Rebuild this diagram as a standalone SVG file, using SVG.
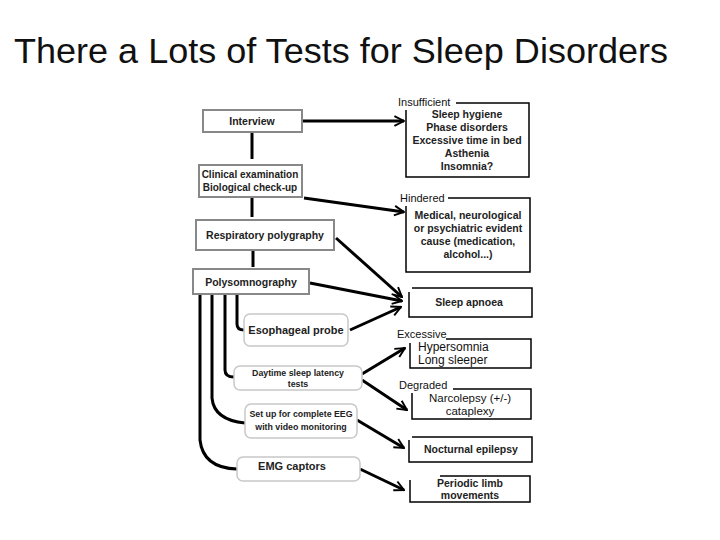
<svg xmlns="http://www.w3.org/2000/svg" width="720" height="540" viewBox="0 0 720 540">
<defs>
<marker id="ah" viewBox="0 0 10 10" refX="9" refY="5" markerWidth="4" markerHeight="4" orient="auto" markerUnits="strokeWidth">
<path d="M1,1 L9,5 L1,9" fill="none" stroke="#000" stroke-width="1.6"/>
</marker>
</defs>
<style>
text{font-family:"Liberation Sans",Arial,sans-serif;fill:#111}
.t{font-size:10.5px;text-anchor:middle;font-weight:bold;fill:#222}
.s{font-size:8.8px;text-anchor:middle;font-weight:bold;fill:#222}
.lbl{font-size:11px}
.box{fill:#fff;stroke:#888;stroke-width:2}
.rbox{fill:#fff;stroke:#c8c8c8;stroke-width:1.5}
.res{fill:#fff;stroke:#000;stroke-width:1.5}
.c{fill:none;stroke:#000;stroke-width:3}
.a{fill:none;stroke:#000;stroke-width:3;marker-end:url(#ah)}
</style>
<rect width="720" height="540" fill="#fff"/>
<text x="14" y="63" style="font-size:35px" textLength="654" lengthAdjust="spacingAndGlyphs">There a Lots of Tests for Sleep Disorders</text>

<g id="connectors">
<path class="c" d="M252,132 V159"/>
<path class="c" d="M252,197 V217"/>
<path class="c" d="M253,250 V267"/>
<path class="c" d="M237,294 V324 Q237,330 244,330"/>
<path class="c" d="M225,294 V370 Q225,377 234,377"/>
<path class="c" d="M212,294 V398 Q214,420 245,423"/>
<path class="c" d="M200,294 V440 Q203,468 237,469"/>
<path class="a" d="M302,121 H404"/>
<path class="a" d="M304,198 L404,212"/>
<path class="a" d="M336,238 L402,297"/>
<path class="a" d="M310,283 L402,301"/>
<path class="a" d="M350,330 L401,307"/>
<path class="a" d="M362,374 L405,348"/>
<path class="a" d="M362,380 L407,410"/>
<path class="a" d="M357,420 L404,448"/>
<path class="a" d="M360,469 L404,490"/>
</g>

<g id="interview"><rect class="box" x="203" y="110" width="99" height="22"/><text class="t" x="252" y="125">Interview</text></g>
<g id="clinical"><rect class="box" x="199" y="165" width="103" height="32"/><text class="t" x="250" y="178" style="font-size:10px">Clinical examination</text><text class="t" x="250" y="191" style="font-size:10px">Biological check-up</text></g>
<g id="respiratory"><rect class="box" x="196" y="220" width="138" height="30"/><text class="t" x="265" y="239">Respiratory polygraphy</text></g>
<g id="polysom"><rect class="box" x="193" y="269" width="116" height="25"/><text class="t" x="251" y="286">Polysomnography</text></g>
<g id="esophageal"><rect class="rbox" x="244" y="314" width="104" height="32" rx="6"/><text class="t" x="296" y="334" style="font-size:11px">Esophageal probe</text></g>
<g id="daytime"><rect class="rbox" x="234" y="366" width="128" height="24" rx="6"/><text class="s" x="298" y="376">Daytime sleep latency</text><text class="s" x="298" y="387">tests</text></g>
<g id="eeg"><rect class="rbox" x="245" y="404" width="112" height="34" rx="6"/><text class="s" x="301" y="417">Set up for complete EEG</text><text class="s" x="301" y="430">with video monitoring</text></g>
<g id="emg"><rect class="rbox" x="237" y="457" width="123" height="24" rx="6"/><text class="t" x="292" y="470" style="font-size:11px">EMG captors</text></g>

<g id="insufficient"><path class="res" d="M456,103 H529 V177 H406 V110"/><text class="lbl" x="398" y="106">Insufficient</text>
<text class="t" x="467" y="118">Sleep hygiene</text><text class="t" x="467" y="131">Phase disorders</text><text class="t" x="467" y="144">Excessive time in bed</text><text class="t" x="467" y="157">Asthenia</text><text class="t" x="467" y="170">Insomnia?</text></g>
<g id="hindered"><path class="res" d="M448,198 H530 V272 H406 V206"/><text class="lbl" x="400" y="202">Hindered</text>
<text class="t" x="468" y="219">Medical, neurological</text><text class="t" x="468" y="232">or psychiatric evident</text><text class="t" x="468" y="245">cause (medication,</text><text class="t" x="468" y="258">alcohol...)</text></g>
<g id="apnoea"><path class="res" d="M412,288 H532 V317 H409 V292"/><text class="t" x="469" y="306">Sleep apnoea</text></g>
<g id="excessive"><path class="res" d="M446,339 H531 V368 H410 V343"/><text class="lbl" x="397" y="338">Excessive</text>
<text x="418" y="351" style="font-size:12px">Hypersomnia</text><text x="418" y="364" style="font-size:12px">Long sleeper</text></g>
<g id="degraded"><path class="res" d="M453,389 H531 V419 H412 V393"/><text class="lbl" x="399" y="389">Degraded</text>
<text x="470" y="402" style="font-size:11.5px;text-anchor:middle">Narcolepsy (+/-)</text><text x="470" y="415" style="font-size:11.5px;text-anchor:middle">cataplexy</text></g>
<g id="nocturnal"><path class="res" d="M412,437 H532 V462 H409 V440"/><text class="t" x="471" y="453">Nocturnal epilepsy</text></g>
<g id="periodic"><path class="res" d="M440,476 H530 V502 H410 V480"/><text class="t" x="470" y="487">Periodic limb</text><text class="t" x="470" y="499">movements</text></g>
</svg>
